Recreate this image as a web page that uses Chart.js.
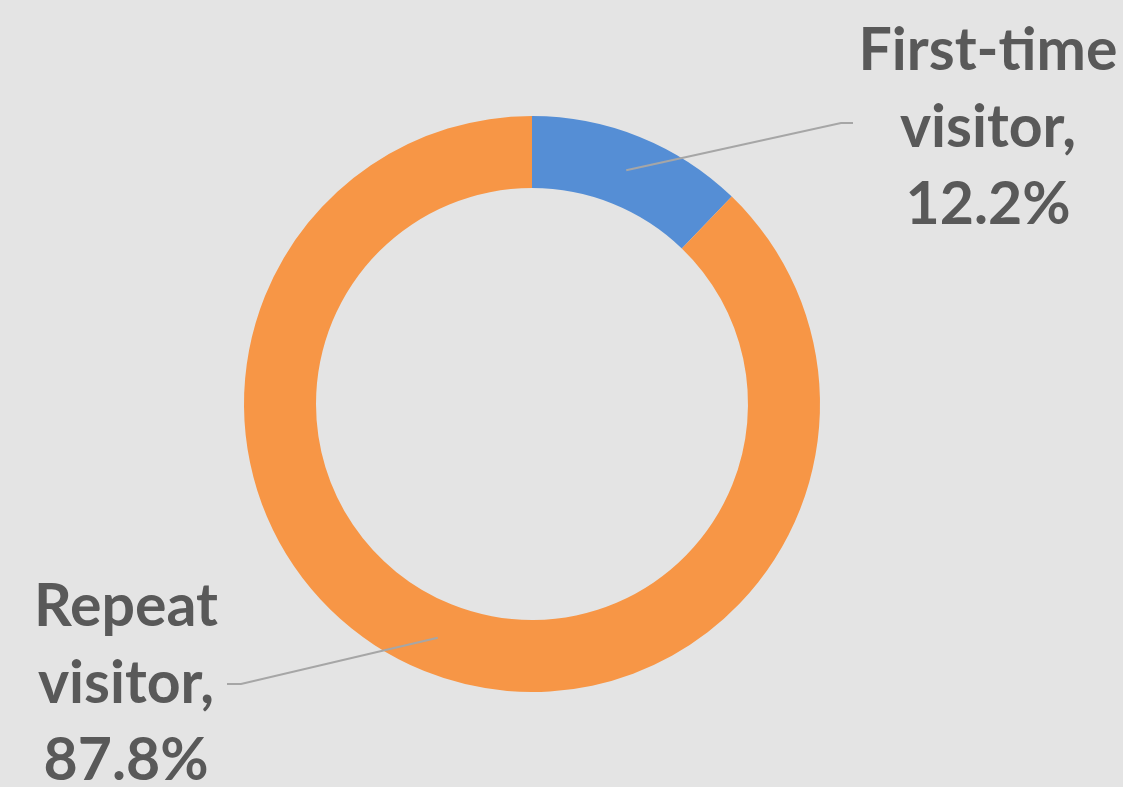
<!DOCTYPE html>
<html>
<head>
<meta charset="utf-8">
<script src="https://cdn.jsdelivr.net/npm/chart.js@4"></script>
<style>
  html, body { margin: 0; padding: 0; background: #e4e4e4; }
  #wrap { width: 1123px; height: 787px; }
</style>
</head>
<body>
<div id="wrap"><canvas id="visitorChart" width="1123" height="787"></canvas></div>
<script>
const categories = ['First-time visitor', 'Repeat visitor'];
const shares = [12.2, 87.8];
const sliceColors = ['#558ed5', '#f79646'];

// label block placement (text centre + leader elbow) per slice
const labelSpots = [
  { lines: ['First-time', 'visitor,', '12.2%'], cx: 988, cy: 128, elbow: [841, 123], end: [853, 123] },
  { lines: ['Repeat', 'visitor,', '87.8%'], cx: 126, cy: 684, elbow: [241, 684], end: [227, 684] }
];

const calloutPlugin = {
  id: 'callouts',
  afterDatasetsDraw: (chart) => {
    const ctx = chart.ctx;
    const meta = chart.getDatasetMeta(0);
    ctx.save();
    meta.data.forEach((arc, i) => {
      const spot = labelSpots[i];
      const mid = arc.getCenterPoint();
      ctx.strokeStyle = '#a6a6a6';
      ctx.lineWidth = 2;
      ctx.beginPath();
      ctx.moveTo(mid.x, mid.y);
      ctx.lineTo(spot.elbow[0], spot.elbow[1]);
      ctx.lineTo(spot.end[0], spot.end[1]);
      ctx.stroke();

      ctx.fillStyle = '#595959';
      ctx.font = 'bold 59px Lato';
      ctx.textAlign = 'center';
      ctx.textBaseline = 'middle';
      const lh = 77;
      spot.lines.forEach((t, k) => {
        ctx.fillText(t, spot.cx, spot.cy + (k - 1) * lh);
      });
    });
    ctx.restore();
  }
};

new Chart(document.getElementById('visitorChart').getContext('2d'), {
  type: 'doughnut',
  data: {
    labels: categories,
    datasets: [{
      data: shares,
      backgroundColor: sliceColors,
      borderWidth: 0
    }]
  },
  options: {
    responsive: false,
    animation: false,
    cutout: '75%',
    layout: { padding: { left: 244, right: 303, top: 116, bottom: 95 } },
    plugins: {
      legend: { display: false },
      tooltip: { enabled: false }
    }
  },
  plugins: [calloutPlugin]
});
</script>
</body>
</html>
